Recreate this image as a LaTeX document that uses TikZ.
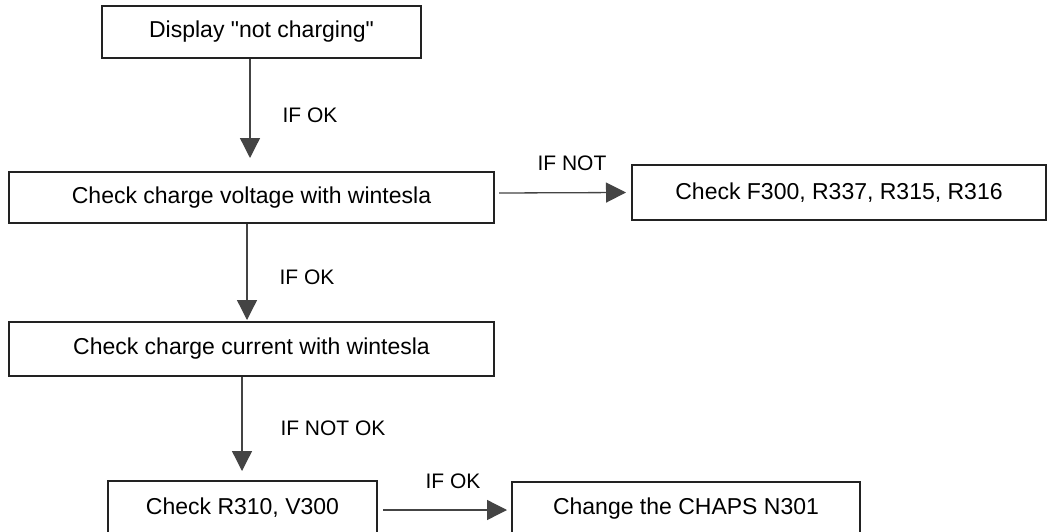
\documentclass[tikz,border=0pt]{standalone}
\usepackage{fontspec}
\setmainfont{Liberation Sans}[Ligatures=TeXOff]
\usetikzlibrary{arrows.meta}
\definecolor{edge}{HTML}{222222}
\definecolor{wire}{HTML}{444444}
\tikzset{
  stepbox/.style={draw=edge, line width=2pt, fill=white, inner sep=0pt,
    font=\fontsize{23}{27}\selectfont},
  flow/.style={draw=wire, line width=1.3pt,
    -{Triangle[length=20pt,width=20pt]}},
  cond/.style={font=\fontsize{21}{25}\selectfont, inner sep=0pt}
}
\begin{document}
\begin{tikzpicture}[x=1pt,y=-1pt]
  % canvas
  \fill[white] (0,0) rectangle (1048,532);
  \useasboundingbox (0,0) rectangle (1048,532);

  % process boxes
  \node[stepbox, minimum width=319pt, minimum height=52pt] (b1) at (261.5,32) {Display "not charging"};
  \node[stepbox, minimum width=485pt, minimum height=51pt] (b2) at (251.5,197.5) {Check charge voltage with wintesla};
  \node[stepbox, minimum width=414pt, minimum height=55pt] (b3) at (839,192.5) {Check F300, R337, R315, R316};
  \node[stepbox, minimum width=485pt, minimum height=54pt] (b4) at (251.5,349) {Check charge current with wintesla};
  \node[stepbox, minimum width=269pt, minimum height=54pt] (b5) at (242.5,508) {Check R310, V300};
  \node[stepbox, minimum width=348pt, minimum height=54pt] (b6) at (686,509) {Change the CHAPS N301};

  % connectors
  \draw[flow] ([xshift=-11.5pt]b1.south) -- ([xshift=-1.5pt,yshift=13pt]b2.north);
  \draw[flow] ([xshift=4pt,yshift=4.5pt]b2.east) -- ([xshift=-5pt]b3.west);
  \draw[flow] ([xshift=-4.5pt]b2.south) -- ([xshift=-4.5pt,yshift=1pt]b4.north);
  \draw[flow] ([xshift=-9.5pt]b4.south) -- ([xshift=-0.5pt,yshift=9pt]b5.north);
  \draw[flow] ([xshift=5pt,yshift=-2pt]b5.east) -- ([xshift=-4pt,yshift=-1pt]b6.west);

  % conditions
  \node[cond] (c1) at (310,115) {IF OK};
  \node[cond] (c2) at (572,163) {IF NOT};
  \node[cond] (c3) at (307,277) {IF OK};
  \node[cond] (c4) at (333,428) {IF NOT OK};
  \node[cond] (c5) at (453,481) {IF OK};
\end{tikzpicture}
\end{document}
